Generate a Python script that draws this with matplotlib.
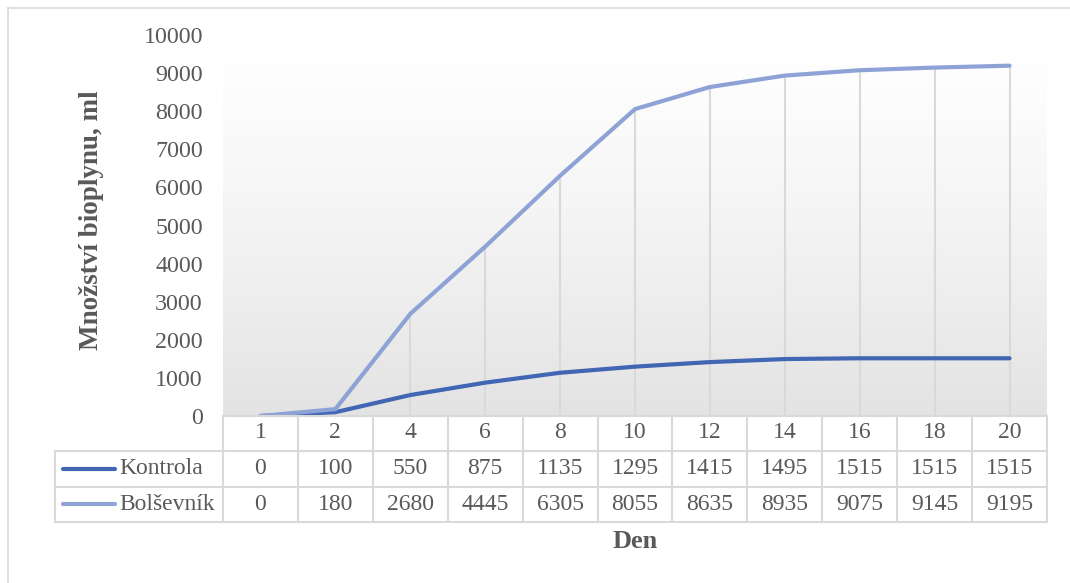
import numpy as np
import matplotlib
matplotlib.use("Agg")
import matplotlib.pyplot as plt
from matplotlib.transforms import blended_transform_factory
from matplotlib.lines import Line2D

# ---- data ----
days = ["1", "2", "4", "6", "8", "10", "12", "14", "16", "18", "20"]
kontrola = [0, 100, 550, 875, 1135, 1295, 1415, 1495, 1515, 1515, 1515]
bolsevnik = [0, 180, 2680, 4445, 6305, 8055, 8635, 8935, 9075, 9145, 9195]
series_names = ["Kontrola", "Bolševník"]
yticks = [0, 1000, 2000, 3000, 4000, 5000, 6000, 7000, 8000, 9000, 10000]

# ---- styling ----
W, H = 1070, 583
C_K = "#4166b3"
C_B = "#8ea3d5"
GRID = "#d9d9d9"
TXT = "#595959"
plt.rcParams['font.family'] = ['Liberation Serif', 'DejaVu Serif']

fig = plt.figure(figsize=(W / 100, H / 100), dpi=100)

def fx(px):
    return px / W

def fy(py):
    return 1 - py / H

# plot area in pixels
L, R, T, B = 223, 1047, 35, 416
ax = fig.add_axes([fx(L), fy(B), fx(R - L), (B - T) / H])
n = len(days)
x = np.arange(n)
ax.set_xlim(-0.5, n - 0.5)

# gradient background (white at top -> light gray at bottom)
g = np.linspace(0, 1, 256) ** 1.3
g = g.reshape(-1, 1)
top = np.array([1.0, 1.0, 1.0])
bot = np.array([0xe3, 0xe3, 0xe3]) / 255
img = top[None, None, :] * (1 - g[..., None]) + bot[None, None, :] * g[..., None]
ax.imshow(img, extent=(-0.5, n - 0.5, 0, 10000), aspect="auto", zorder=0,
          origin="upper")
ax.set_xlim(-0.5, n - 0.5)
ax.set_ylim(0, 10000)

# drop lines
ax.vlines(x, 0, bolsevnik, colors=GRID, linewidth=1.5, zorder=1)

ax.plot(x, kontrola, color=C_K, linewidth=3, solid_capstyle="round", zorder=3)
ax.plot(x, bolsevnik, color=C_B, linewidth=3, solid_capstyle="round", zorder=3)

for s in ax.spines.values():
    s.set_visible(False)
ax.set_xticks([])
ax.set_yticks(yticks)
ax.set_yticklabels([str(v) for v in yticks], fontsize=17.3, color=TXT)
ax.tick_params(axis="y", length=0, pad=14.5)

fig.text(fx(91), fy(220), "Množství bioplynu, ml", rotation=90, ha="center",
         va="center", fontsize=19.5, fontweight="bold", color=TXT)
fig.text(fx(635), fy(541), "Den", ha="center", va="center", fontsize=19,
         fontweight="bold", color=TXT)

# ---- data table ----
bt = blended_transform_factory(ax.transData, fig.transFigure)
rows_y = [416, 451, 487, 522]
lw = 1.5
fig.add_artist(Line2D([fx(L), fx(R)], [fy(rows_y[0])] * 2, color=GRID, lw=lw,
                      transform=fig.transFigure))
for yy in rows_y[1:]:
    fig.add_artist(Line2D([fx(55), fx(R)], [fy(yy)] * 2, color=GRID, lw=lw,
                          transform=fig.transFigure))
fig.add_artist(Line2D([fx(55), fx(55)], [fy(rows_y[1]), fy(rows_y[3])],
                      color=GRID, lw=lw, transform=fig.transFigure))
for i in range(n + 1):
    fig.add_artist(Line2D([i - 0.5, i - 0.5], [fy(rows_y[0]), fy(rows_y[3])],
                          color=GRID, lw=lw, transform=bt))

cell_fs = 17
for i in range(n):
    fig.text(i, fy(433), days[i], transform=bt, ha="center", va="center",
             fontsize=cell_fs, color=TXT)
    fig.text(i, fy(469), str(kontrola[i]), transform=bt, ha="center",
             va="center", fontsize=cell_fs, color=TXT)
    fig.text(i, fy(504), str(bolsevnik[i]), transform=bt, ha="center",
             va="center", fontsize=cell_fs, color=TXT)

for name, col, yy in zip(series_names, [C_K, C_B], [469, 504]):
    fig.add_artist(Line2D([fx(63), fx(115)], [fy(yy)] * 2, color=col, lw=3,
                          solid_capstyle="round", transform=fig.transFigure))
    fig.text(fx(119), fy(yy), name, ha="left", va="center", fontsize=cell_fs,
             color=TXT)

# chart border (partially cropped)
fig.add_artist(Line2D([fx(8), fx(W + 5)], [fy(8)] * 2, color=GRID, lw=1.2,
                      transform=fig.transFigure))
fig.add_artist(Line2D([fx(8), fx(8)], [fy(8), fy(H + 5)], color=GRID, lw=1.2,
                      transform=fig.transFigure))

fig.savefig("out.png", dpi=100, facecolor="white")
